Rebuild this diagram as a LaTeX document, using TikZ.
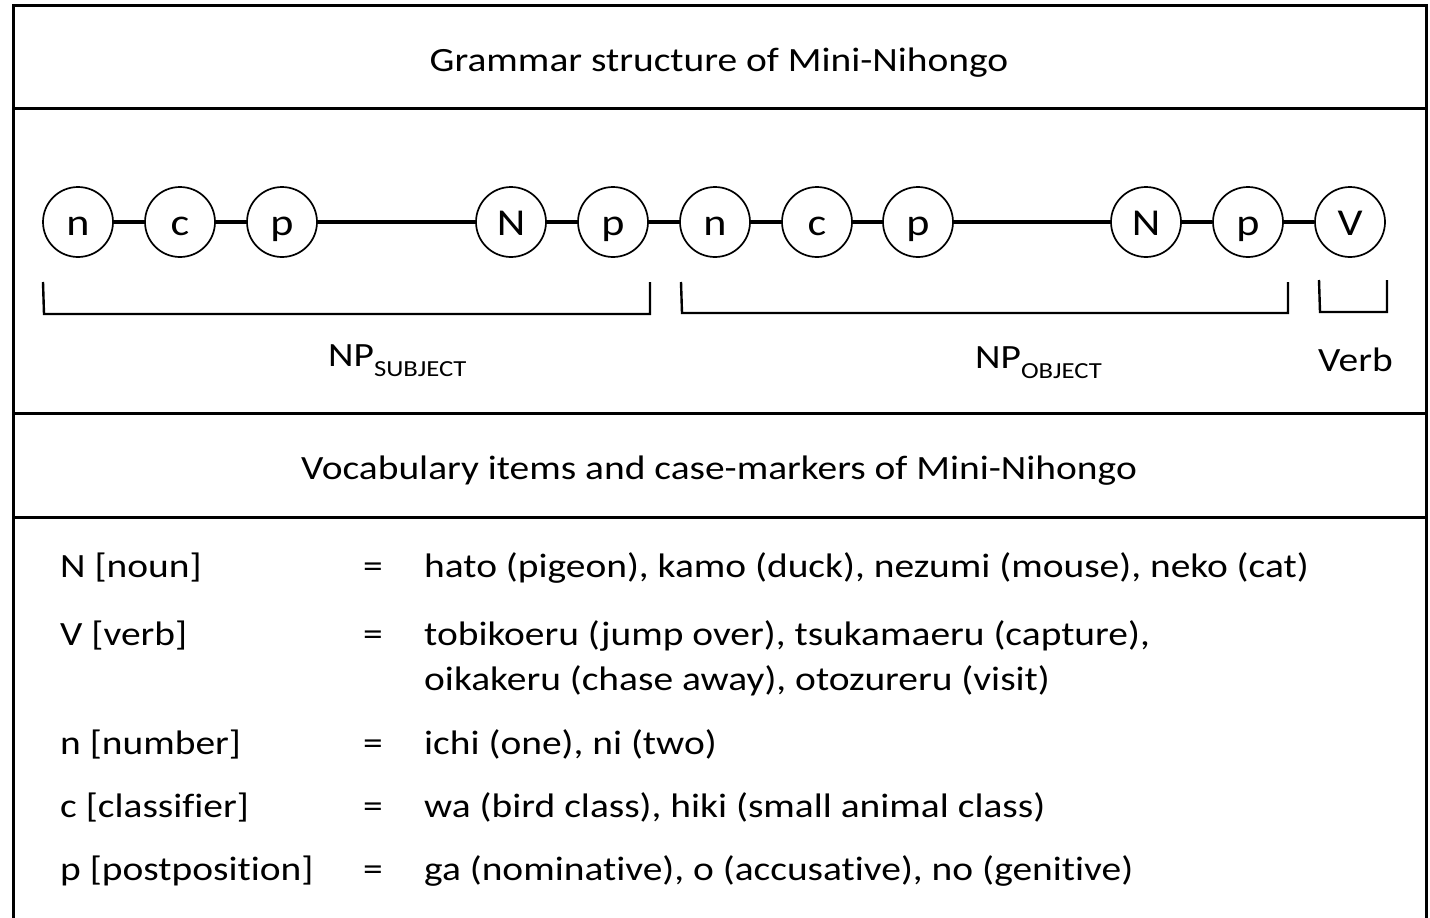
\documentclass[tikz,border=0pt]{standalone}
\usepackage{fontspec}
\setmainfont{Carlito}[FakeStretch=1.16,Ligatures=NoCommon]
\begin{document}
\begin{tikzpicture}[x=1pt,y=-1pt,
  frame/.style={line width=3pt,line cap=rect},
  wd/.style={circle,draw,line width=1.7pt,minimum size=70pt,inner sep=0pt,text height=30pt,text depth=4pt,font=\fontsize{38}{40}\selectfont},
  link/.style={line width=3.4pt},
  brk/.style={line width=2.4pt},
  txt/.style={inner sep=0pt,font=\fontsize{34}{40}\selectfont},
  lab/.style={txt,anchor=base west},
  hd/.style={txt,anchor=base}]
\useasboundingbox (0,0) rectangle (1430,918);
% frame
\draw[frame] (13,918) -- (13,5) -- (1426,5) -- (1426,918);
\draw[frame] (13,108) -- (1426,108);
\draw[frame] (13,413) -- (1426,413);
\draw[frame] (13,517) -- (1426,517);
% headings
\node[hd] (t1) at (719,71) {Grammar structure of Mini-Nihongo};
\node[hd] (t2) at (719,479) {Vocabulary items and case-markers of Mini-Nihongo};
% word circles
\node[wd] (n1) at (78,222) {n};
\node[wd] (c1) at (180,222) {c};
\node[wd] (p1) at (282,222) {p};
\node[wd] (N1) at (511,222) {N};
\node[wd] (q1) at (613,222) {p};
\node[wd] (n2) at (715,222) {n};
\node[wd] (c2) at (817,222) {c};
\node[wd] (p2) at (918,222) {p};
\node[wd] (N2) at (1146,222) {N};
\node[wd] (q2) at (1248,222) {p};
\node[wd] (V) at (1350,222) {V};
\foreach \a/\b in {n1/c1,c1/p1,p1/N1,N1/q1,q1/n2,n2/c2,c2/p2,p2/N2,N2/q2,q2/V}
  \draw[link] (\a) -- (\b);
% brackets
\coordinate (s1) at (43,282); \coordinate (s2) at (650,282);
\coordinate (o1) at (681,282); \coordinate (o2) at (1288,282);
\coordinate (v1) at (1319,280); \coordinate (v2) at (1387,280);
\draw[brk] (s1) -- ++(1,32) -| (s2);
\draw[brk] (o1) -- ++(1,31) -| (o2);
\draw[brk] (v1) -- ++(1,32) -| (v2);
\node[lab] (ls) at (328,366) {NP\raisebox{-10pt}{\fontsize{23}{25}\selectfont SUBJECT}};
\node[lab] (lo) at (975,368) {NP\raisebox{-10pt}{\fontsize{23}{25}\selectfont OBJECT}};
\node[lab] (lv) at (1318,371) {Verb};
% table
\node[lab] (r1) at (60,577) {N [noun]};
\node[lab] (e1) at (363,577) {=};
\node[lab] (d1) at (424,577) {hato (pigeon), kamo (duck), nezumi (mouse), neko (cat)};
\node[lab] (r2) at (60,645) {V [verb]};
\node[lab] (e2) at (363,645) {=};
\node[lab] (d2) at (424,645) {tobikoeru (jump over), tsukamaeru (capture),};
\node[lab] (d2b) at (424,690) {oikakeru (chase away), otozureru (visit)};
\node[lab] (r3) at (60,754) {n [number]};
\node[lab] (e3) at (363,754) {=};
\node[lab] (d3) at (424,754) {ichi (one), ni (two)};
\node[lab] (r4) at (60,817) {c [classifier]};
\node[lab] (e4) at (363,817) {=};
\node[lab] (d4) at (424,817) {wa (bird class), hiki (small animal class)};
\node[lab] (r5) at (60,880) {p [postposition]};
\node[lab] (e5) at (363,880) {=};
\node[lab] (d5) at (424,880) {ga (nominative), o (accusative), no (genitive)};
\end{tikzpicture}
\end{document}
